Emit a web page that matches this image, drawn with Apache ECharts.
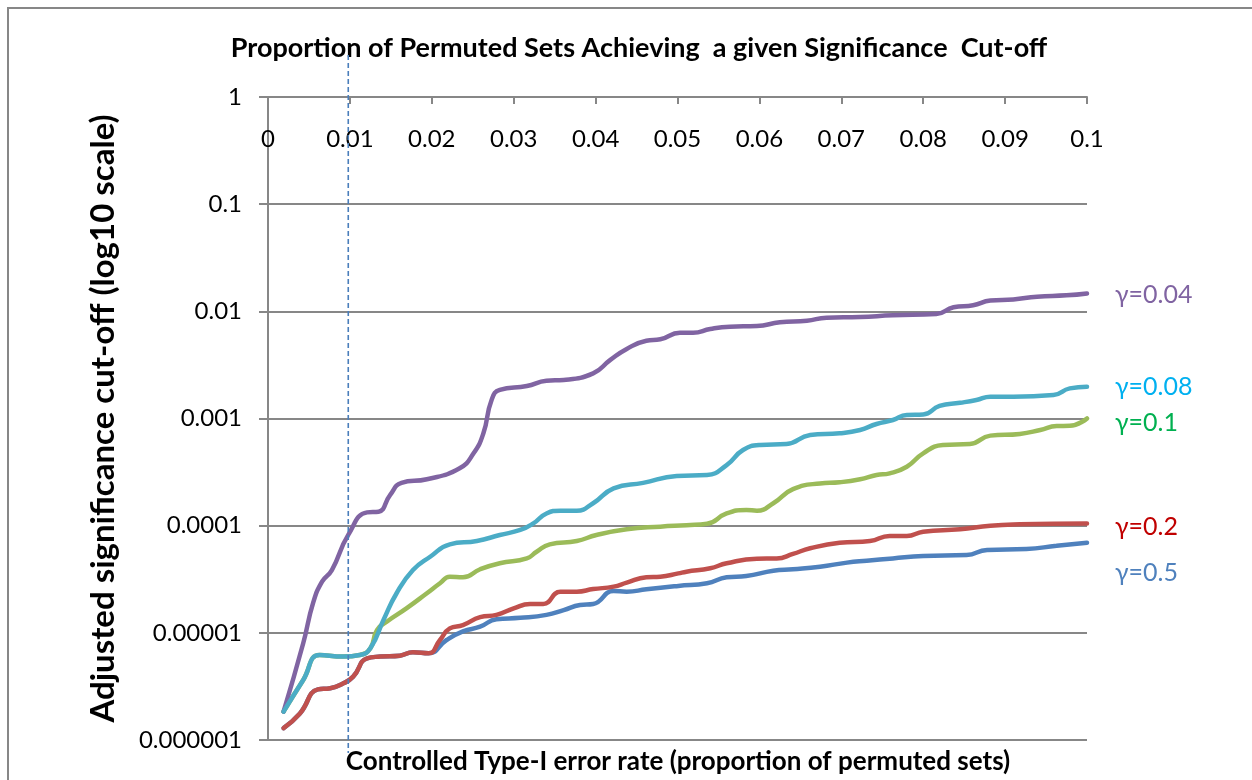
<!DOCTYPE html>
<html>
<head>
<meta charset="utf-8">
<title>Proportion of Permuted Sets Achieving a given Significance Cut-off</title>
<script src="https://cdn.jsdelivr.net/npm/echarts@6/dist/echarts.min.js"></script>
<style>
  html, body { margin: 0; padding: 0; background: #ffffff; }
  #chart { width: 1252px; height: 780px; }
</style>
</head>
<body>
<div id="chart"></div>
<script>
// Adjusted significance cut-off versus controlled Type-I error rate, one curve per gamma
const seriesNames = ['γ=0.5', 'γ=0.2', 'γ=0.1', 'γ=0.04', 'γ=0.08'];
const seriesColors = ['#4F81BD', '#C0504D', '#9BBB59', '#8064A2', '#4BACC6'];
const labelColors = ['#4F81BD', '#C00000', '#00B050', '#8064A2', '#00B0F0'];

const xTickLabels = ['0', '0.01', '0.02', '0.03', '0.04', '0.05', '0.06', '0.07', '0.08', '0.09', '0.1'];
const yTickLabels = ['1', '0.1', '0.01', '0.001', '0.0001', '0.00001', '0.000001'];
const cutoffRate = 0.0098;

const gamma05 = [
  [0.0019, 1.29e-6], [0.0039, 1.77e-6], [0.0061, 2.97e-6], [0.0076, 3.04e-6], [0.0092, 3.38e-6],
  [0.0104, 3.90e-6], [0.0121, 5.79e-6], [0.0137, 6.0e-6], [0.0161, 6.12e-6], [0.0177, 6.59e-6],
  [0.0196, 6.44e-6], [0.0218, 8.57e-6], [0.0238, 1.03e-5], [0.0259, 1.14e-5], [0.0279, 1.34e-5],
  [0.0308, 1.38e-5], [0.034, 1.47e-5], [0.0361, 1.63e-5], [0.0381, 1.82e-5], [0.0397, 1.86e-5],
  [0.0422, 2.46e-5], [0.0438, 2.42e-5], [0.0462, 2.55e-5], [0.0501, 2.74e-5], [0.0536, 2.90e-5],
  [0.056, 3.30e-5], [0.0584, 3.39e-5], [0.0617, 3.80e-5], [0.0641, 3.92e-5], [0.0674, 4.14e-5],
  [0.0707, 4.52e-5], [0.0731, 4.71e-5], [0.0763, 4.95e-5], [0.08, 5.21e-5], [0.0853, 5.32e-5],
  [0.0878, 5.93e-5], [0.0926, 6.05e-5], [0.0963, 6.50e-5], [0.1, 6.93e-5]
];
const gamma02 = [
  [0.0019, 1.29e-6], [0.0039, 1.77e-6], [0.0061, 2.97e-6], [0.0076, 3.04e-6], [0.0092, 3.38e-6],
  [0.0104, 3.90e-6], [0.0121, 5.79e-6], [0.0137, 6.0e-6], [0.0161, 6.12e-6], [0.0177, 6.59e-6],
  [0.0196, 6.44e-6], [0.021, 8.57e-6], [0.0222, 1.10e-5], [0.0238, 1.18e-5], [0.0259, 1.40e-5],
  [0.0279, 1.47e-5], [0.03, 1.69e-5], [0.032, 1.86e-5], [0.0336, 1.86e-5], [0.0357, 2.42e-5],
  [0.0377, 2.42e-5], [0.0397, 2.56e-5], [0.0422, 2.70e-5], [0.0438, 2.94e-5], [0.0462, 3.30e-5],
  [0.0479, 3.34e-5], [0.0501, 3.59e-5], [0.0511, 3.72e-5], [0.054, 4.0e-5], [0.056, 4.46e-5],
  [0.0597, 4.92e-5], [0.0621, 4.94e-5], [0.0641, 5.45e-5], [0.0662, 6.15e-5], [0.0698, 6.93e-5],
  [0.0735, 7.19e-5], [0.0759, 8.02e-5], [0.078, 8.02e-5], [0.08, 8.79e-5], [0.0845, 9.25e-5],
  [0.0882, 1.0e-4], [0.0918, 1.03e-4], [0.1, 1.05e-4]
];
const gamma01 = [
  [0.0019, 1.84e-6], [0.0043, 3.63e-6], [0.0063, 6.21e-6], [0.0092, 6.0e-6], [0.0112, 6.21e-6],
  [0.0125, 7.18e-6], [0.0133, 1.06e-5], [0.0145, 1.27e-5], [0.0169, 1.69e-5], [0.0194, 2.34e-5],
  [0.021, 2.90e-5], [0.0222, 3.34e-5], [0.0238, 3.30e-5], [0.0259, 3.92e-5], [0.0283, 4.46e-5],
  [0.0316, 4.95e-5], [0.0328, 5.71e-5], [0.0344, 6.70e-5], [0.0377, 7.19e-5], [0.0401, 8.18e-5],
  [0.0438, 9.25e-5], [0.0479, 9.79e-5], [0.0511, 1.01e-4], [0.0536, 1.04e-4], [0.056, 1.30e-4],
  [0.0584, 1.40e-4], [0.0597, 1.38e-4], [0.0617, 1.62e-4], [0.0641, 2.19e-4], [0.0674, 2.48e-4],
  [0.0698, 2.54e-4], [0.0723, 2.71e-4], [0.0743, 2.97e-4], [0.0759, 3.08e-4], [0.078, 3.55e-4],
  [0.08, 4.73e-4], [0.0824, 5.66e-4], [0.0857, 5.78e-4], [0.0882, 6.92e-4], [0.0918, 7.18e-4],
  [0.0943, 7.82e-4], [0.0963, 8.51e-4], [0.0979, 8.55e-4], [0.1, 1.0e-3]
];
const gamma004 = [
  [0.0019, 1.84e-6], [0.0043, 8.0e-6], [0.0055, 1.89e-5], [0.0066, 3.0e-5], [0.0078, 3.85e-5],
  [0.0098, 8.2e-5], [0.0121, 1.33e-4], [0.0135, 1.35e-4], [0.0149, 1.93e-4], [0.0163, 2.51e-4],
  [0.0194, 2.71e-4], [0.0234, 3.43e-4], [0.0251, 4.73e-4], [0.0263, 7.28e-4], [0.0273, 1.49e-3],
  [0.0283, 1.85e-3], [0.0316, 2.01e-3], [0.034, 2.25e-3], [0.0361, 2.29e-3], [0.0397, 2.64e-3],
  [0.0418, 3.52e-3], [0.0438, 4.46e-3], [0.0462, 5.32e-3], [0.0479, 5.48e-3], [0.0503, 6.31e-3],
  [0.0519, 6.31e-3], [0.054, 6.84e-3], [0.0564, 7.19e-3], [0.0597, 7.29e-3], [0.0625, 7.91e-3],
  [0.0658, 8.18e-3], [0.0682, 8.73e-3], [0.0723, 8.85e-3], [0.0763, 9.18e-3], [0.0816, 9.44e-3],
  [0.0837, 1.09e-2], [0.0861, 1.14e-2], [0.0882, 1.26e-2], [0.091, 1.29e-2], [0.0939, 1.37e-2],
  [0.0975, 1.41e-2], [0.1, 1.47e-2]
];
const gamma008 = [
  [0.0019, 1.84e-6], [0.0043, 3.63e-6], [0.0063, 6.21e-6], [0.0092, 6.0e-6], [0.0112, 6.21e-6],
  [0.0125, 7.18e-6], [0.0141, 1.32e-5], [0.0157, 2.34e-5], [0.0177, 3.85e-5], [0.0198, 5.13e-5],
  [0.0222, 6.70e-5], [0.0255, 7.19e-5], [0.0283, 8.18e-5], [0.0308, 9.12e-5], [0.0324, 1.05e-4],
  [0.034, 1.30e-4], [0.0357, 1.38e-4], [0.0377, 1.38e-4], [0.0397, 1.62e-4], [0.0422, 2.23e-4],
  [0.0458, 2.51e-4], [0.0499, 2.91e-4], [0.0536, 2.97e-4], [0.056, 3.68e-4], [0.058, 5.08e-4],
  [0.0601, 5.66e-4], [0.0633, 5.78e-4], [0.0662, 7.01e-4], [0.0698, 7.28e-4], [0.0723, 7.82e-4],
  [0.0743, 8.89e-4], [0.0763, 9.68e-4], [0.078, 1.08e-3], [0.08, 1.09e-3], [0.082, 1.31e-3],
  [0.0845, 1.40e-3], [0.0865, 1.49e-3], [0.0882, 1.60e-3], [0.091, 1.60e-3], [0.0959, 1.66e-3],
  [0.0979, 1.91e-3], [0.1, 1.98e-3]
];
const seriesData = [gamma05, gamma02, gamma01, gamma004, gamma008];
const endLabelOffsets = [[0, 30], [0, 4], [0, 4], [0, 2], [0, 0]];

const FONT = 'Lato, "Open Sans", sans-serif';
const GREY = '#878787';

const chart = echarts.init(document.getElementById('chart'), null, { renderer: 'canvas' });

const option = {
  animation: false,
  backgroundColor: '#ffffff',
  grid: { left: 268, top: 97, right: 165, bottom: 40, containLabel: false },
  xAxis: {
    type: 'value',
    position: 'top',
    min: 0,
    max: 0.1,
    interval: 0.01,
    axisLine: { show: true, lineStyle: { color: GREY, width: 2 } },
    axisTick: { show: true, inside: true, length: 7, lineStyle: { color: GREY, width: 2 } },
    splitLine: { show: false },
    axisLabel: {
      inside: true,
      margin: 30,
      fontFamily: FONT,
      fontSize: 24,
      color: '#000000',
      formatter: function (v) { return xTickLabels[Math.round(v * 100)]; }
    }
  },
  yAxis: {
    type: 'log',
    logBase: 10,
    min: 1e-6,
    max: 1,
    name: 'Adjusted significance cut-off (log10 scale)',
    nameLocation: 'middle',
    nameRotate: 90,
    nameGap: 148,
    nameTextStyle: { fontFamily: FONT, fontSize: 33, fontWeight: 'bold', color: '#000000' },
    axisLine: { show: true, lineStyle: { color: GREY, width: 2 } },
    axisTick: { show: true, inside: false, length: 9, lineStyle: { color: GREY, width: 2 } },
    splitLine: { show: true, lineStyle: { color: GREY, width: 2 } },
    axisLabel: {
      margin: 26,
      fontFamily: FONT,
      fontSize: 24,
      color: '#000000',
      formatter: function (v) { return yTickLabels[Math.round(-Math.log10(v))]; }
    }
  },
  series: seriesNames.map(function (name, i) {
    return {
      name: name,
      type: 'line',
      data: seriesData[i],
      smooth: 0.5,
      showSymbol: false,
      symbol: 'none',
      clip: false,
      lineStyle: { color: seriesColors[i], width: 4.5, cap: 'round', join: 'round' },
      itemStyle: { color: seriesColors[i] },
      endLabel: {
        show: true,
        formatter: name,
        distance: 28,
        offset: endLabelOffsets[i],
        fontFamily: FONT,
        fontSize: 25,
        color: labelColors[i]
      },
      z: 2 + i
    };
  })
};

chart.setOption(option);

// Frame, headings and the cut-off guide line
function drawOverlay() {
  const xPix = chart.convertToPixel({ gridIndex: 0 }, [cutoffRate, 1e-6]);
  const topPix = chart.convertToPixel({ gridIndex: 0 }, [0, 1]);
  chart.setOption({
    graphic: [
      {
        type: 'rect',
        shape: { x: 8, y: 8, width: 1400, height: 900 },
        style: { fill: 'none', stroke: GREY, lineWidth: 2 },
        silent: true
      },
      {
        type: 'text',
        x: 639,
        y: 48,
        style: {
          text: 'Proportion of Permuted Sets Achieving  a given Significance  Cut-off',
          fontFamily: FONT, fontSize: 27, fontWeight: 'bold', fill: '#000000',
          align: 'center', verticalAlign: 'middle'
        }
      },
      {
        type: 'text',
        x: 678,
        y: 762,
        style: {
          text: 'Controlled Type-I error rate (proportion of permuted sets)',
          fontFamily: FONT, fontSize: 26, fontWeight: 'bold', fill: '#000000',
          align: 'center', verticalAlign: 'middle'
        }
      },
      {
        type: 'line',
        shape: { x1: xPix[0], y1: topPix[1] - 42, x2: xPix[0], y2: xPix[1] + 13 },
        style: { stroke: '#4A7EBB', lineWidth: 1.6, lineDash: [5, 3] },
        z: 100
      }
    ]
  });
}
drawOverlay();
</script>
</body>
</html>
